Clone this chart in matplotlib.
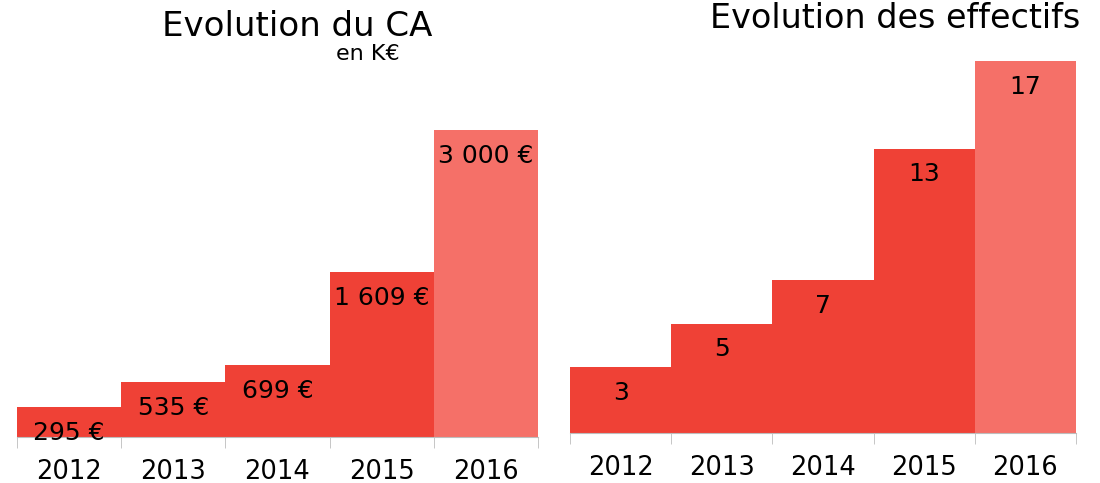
import matplotlib
matplotlib.use('Agg')
import matplotlib.pyplot as plt
import numpy as np

years = ['2012', '2013', '2014', '2015', '2016']
ca_values = [295, 535, 699, 1609, 3000]
ca_labels = ['295 €', '535 €', '699 €', '1 609 €', '3 000 €']
staff_values = [3, 5, 7, 13, 17]
staff_labels = ['3', '5', '7', '13', '17']

RED = '#EF4136'
LIGHT = '#F57068'
GRAY = '#bdbdbd'


def draw(ax, values, labels, ymax):
    x = np.arange(len(values))
    colors = [RED] * (len(values) - 1) + [LIGHT]
    ax.bar(x, values, width=1.0, color=colors, linewidth=0)
    ax.set_xlim(-0.5, len(values) - 0.5)
    ax.set_ylim(0, ymax)
    for s in ['top', 'right', 'left']:
        ax.spines[s].set_visible(False)
    ax.spines['bottom'].set_color(GRAY)
    ax.set_yticks([])
    ax.set_xticks(x)
    ax.set_xticklabels(years, fontsize=18.5)
    ax.tick_params(axis='x', which='major', length=0, pad=16)
    ax.set_xticks(np.arange(len(values) + 1) - 0.5, minor=True)
    ax.tick_params(axis='x', which='minor', length=8, color=GRAY)
    for xi, v, lab in zip(x, values, labels):
        ax.annotate(lab, (xi, v), xytext=(0, -18.5), textcoords='offset points',
                    ha='center', va='center', fontsize=18)


fig = plt.figure(figsize=(11, 4.83), dpi=100)

ax1 = fig.add_axes([17 / 1100, 46 / 483, 521 / 1100, 377 / 483])
draw(ax1, ca_values, ca_labels, 377 / (307 / 3000))

ax2 = fig.add_axes([570 / 1100, 50 / 483, 506 / 1100, 372 / 483])
draw(ax2, staff_values, staff_labels, 17)

fig.text(297 / 1100, 1 - 27 / 483, 'Evolution du CA', ha='center', va='center', fontsize=24.5)
fig.text(368 / 1100, 1 - 54 / 483, 'en K€', ha='center', va='center', fontsize=16)
fig.text(895 / 1100, 1 - 18 / 483, 'Evolution des effectifs', ha='center', va='center', fontsize=24)

fig.savefig('out.png', dpi=100)
